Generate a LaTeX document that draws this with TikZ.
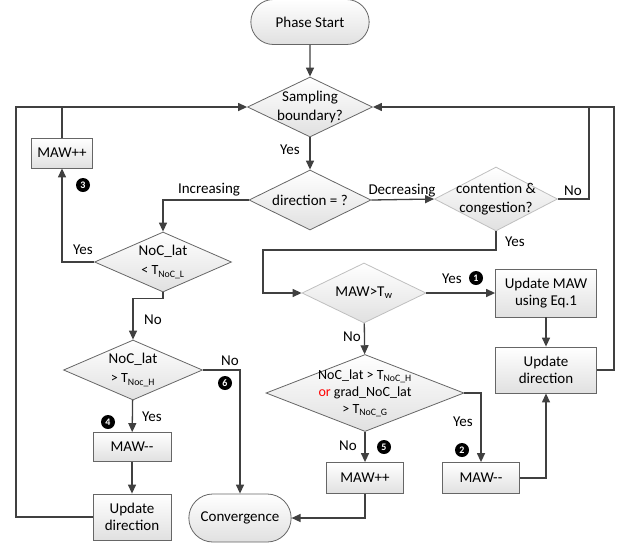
\documentclass[tikz,border=0pt]{standalone}
\usepackage{fontspec}
\setmainfont{Carlito}
\usetikzlibrary{arrows.meta,shapes.geometric,shapes.misc}

\begin{document}
\begin{tikzpicture}[x=1pt, y=-1pt, font=\fontsize{15}{19}\selectfont,
    box/.style={rectangle, draw=black!60, line width=0.8pt, top color=white, bottom color=black!12, align=center, inner sep=1pt},
    term/.style={rounded rectangle, draw=black!60, line width=0.8pt, top color=white, bottom color=black!12},
    dec/.style={diamond, draw=black!60, line width=0.8pt, top color=white, bottom color=black!12, inner sep=0pt},
    decl/.style={dec, draw=black!25},
    flow/.style={draw=black!75, line width=1.3pt},
    arr/.style={flow, -{Triangle[length=9pt,width=8pt]}},
    badge/.style={circle, fill=black, text=white, inner sep=0pt, minimum size=14pt, font=\fontsize{10}{10}\selectfont\bfseries}]
    \useasboundingbox (0,0) rectangle (620,544);

    % blocks
    \node[term, minimum width=125pt, minimum height=45pt] (start) at (310,22) {Phase Start};
    \node[dec, minimum width=125pt, minimum height=60pt, label={[align=center]center:Sampling\\boundary?}] (samp) at (310,107) {};
    \node[dec, minimum width=122pt, minimum height=60pt, label={center:direction = ?}] (dir) at (310,200) {};
    \node[decl, minimum width=123pt, minimum height=64pt, label={[align=center]center:contention \&\\congestion?}] (cont) at (496,199) {};
    \node[dec, minimum width=137pt, minimum height=60pt, label={[align=center]center:NoC\_lat\\{\fontsize{14}{14}\selectfont< T\textsubscript{NoC\_L}}}] (ltl) at (163,262) {};
    \node[dec, minimum width=139pt, minimum height=60pt, label={[align=center]center:NoC\_lat\\{\fontsize{14}{14}\selectfont> T\textsubscript{Noc\_H}}}] (lth) at (133,370) {};
    \node[decl, minimum width=124pt, minimum height=60pt, label={center:MAW>T\textsubscript{w}}] (mawtw) at (364,293) {};
    \node[dec, minimum width=198pt, minimum height=77pt, label={[align=center, font=\fontsize{14}{17}\selectfont]center:NoC\_lat > T\textsubscript{NoC\_H}\\\textcolor{red}{or} grad\_NoC\_lat\\> T\textsubscript{NoC\_G}}] (grad) at (365,393) {};

    \node[box, minimum width=61pt, minimum height=30pt] (incA) at (62,153) {MAW++};
    \node[box, minimum width=78pt, minimum height=29pt] (decL) at (132,447) {MAW-{}-};
    \node[box, minimum width=78pt, minimum height=46pt] (updL) at (132,517) {Update\\[-2pt]direction};
    \node[term, minimum width=109pt, minimum height=48pt] (conv) at (240,518) {Convergence};
    \node[box, minimum width=101pt, minimum height=48pt] (updMAW) at (546,293) {Update MAW\\[-2pt]using Eq.1};
    \node[box, minimum width=101pt, minimum height=46pt] (updR) at (546,370) {Update\\[-2pt]direction};
    \node[box, minimum width=77pt, minimum height=31pt] (incB) at (365,478) {MAW++};
    \node[box, minimum width=77pt, minimum height=31pt] (decB) at (481,478) {MAW-{}-};

    % corner points of the loop lines
    \coordinate (lft) at (16,107);
    \coordinate (rgt) at (614,107);
    \coordinate (mid) at (589,107);
    \coordinate (j1) at (263,250);

    % connectors
    \draw[arr] (start) -- (samp);
    \draw[arr] (samp) -- (dir);
    \draw[arr] (dir.west) -| (ltl.north);
    \draw[arr] (dir.east) -- (cont.west);
    \draw[flow] (cont.east) -| (mid);
    \draw[arr] (updR.east) -| (rgt) -- (samp.east);
    \draw[arr] (cont.south) |- (j1) |- (mawtw.west);
    \draw[arr] (ltl.west) -| (incA.south);
    \draw[flow] (incA.north) -- (incA.north |- samp.west);
    \draw[arr] (updL.west) -| (lft) -- (samp.west);
    \draw[arr] (ltl.south) -- ++(0,6) -| (lth.north);
    \draw[arr] (lth.east) -| (conv.north);
    \draw[arr] (lth) -- (decL);
    \draw[arr] (decL) -- (updL);
    \draw[arr] (mawtw.east) -- (updMAW.west);
    \draw[arr] (updMAW) -- (updR);
    \draw[arr] (mawtw) -- (grad);
    \draw[arr] (grad.south) -- (incB.north);
    \draw[arr] (grad.east) -| (decB.north);
    \draw[arr] (decB.east) -| (updR.south);
    \draw[arr] (incB.south) |- (conv.east);

    % branch labels
    \node (ysamp) at (290,150) {Yes};
    \node (linc) at (209,190) {Increasing};
    \node (ldec) at (402,191) {Decreasing};
    \node (ncont) at (573,191) {No};
    \node (ycont) at (515,242) {Yes};
    \node (yltl) at (83,250) {Yes};
    \node (nltl) at (153,320) {No};
    \node (nlth) at (230,361) {No};
    \node (ylth) at (152,417) {Yes};
    \node (ymaw) at (452,279) {Yes};
    \node (nmaw) at (352,337) {No};
    \node (ngrad) at (348,446) {No};
    \node (ygrad) at (463,422) {Yes};

    % numbered marks
    \node[badge] (b1) at (476,278) {1};
    \node[badge] (b2) at (462,450) {2};
    \node[badge] (b3) at (83,185) {3};
    \node[badge] (b4) at (108,422) {4};
    \node[badge] (b5) at (384,447) {5};
    \node[badge] (b6) at (225,383) {6};
\end{tikzpicture}
\end{document}
